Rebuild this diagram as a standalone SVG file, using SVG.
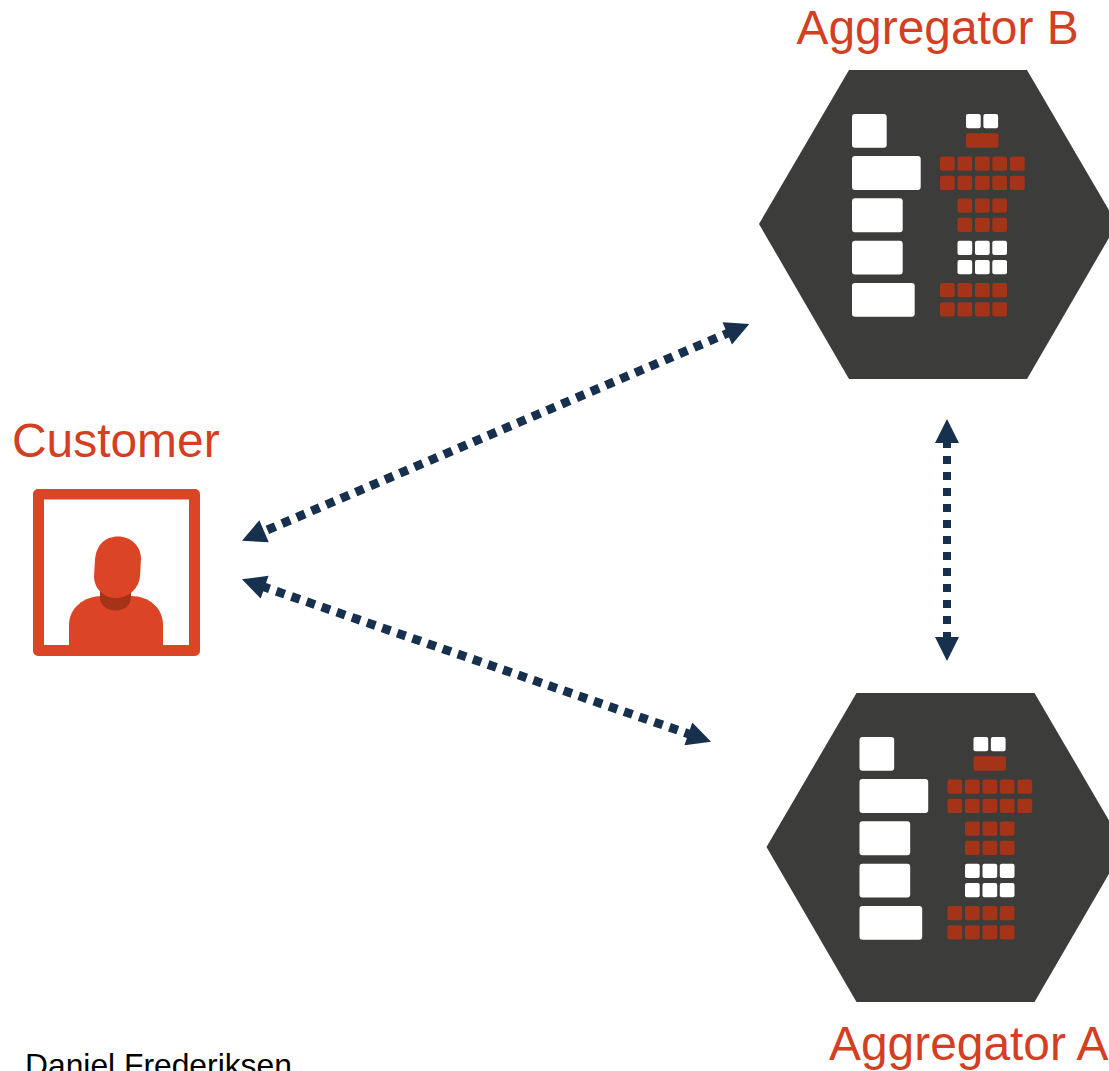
<svg xmlns="http://www.w3.org/2000/svg" xmlns:xlink="http://www.w3.org/1999/xlink" width="1109" height="1071" viewBox="0 0 1109 1071">
<style>
text{font-family:"Liberation Sans",Arial,sans-serif}
.t{font-size:47.9px;fill:#D33F23}
.w{fill:#fff}
.r{fill:#A53318}
.c{fill:none;stroke:#17304D;stroke-width:8;stroke-dasharray:8 8}
.d{stroke-width:8.8;stroke-dasharray:8.8 7.2}
</style>
<defs>
<marker id="h" markerUnits="userSpaceOnUse" markerWidth="30" markerHeight="30" viewBox="0 0 30 30" refX="6" refY="15" orient="auto-start-reverse"><path d="M3 3L27 15L3 27Z" fill="#17304D"/></marker>
<rect id="s" width="14.700" height="14.300" rx="2"/>
<g id="srv">
<path d="M759 224L849 70H1027L1117 224L1027 379H849Z" fill="#3C3C3A"/>
<g class="w">
<rect x="852" y="114" width="34.700" height="33.700" rx="3"/>
<rect x="852" y="156" width="68.700" height="34" rx="3"/>
<rect x="852" y="198.300" width="50.700" height="34" rx="3"/>
<rect x="852" y="240.700" width="50.700" height="33.700" rx="3"/>
<rect x="852" y="283" width="62.700" height="33.700" rx="3"/>
<use xlink:href="#s" x="966" y="114"/><use xlink:href="#s" x="983.400" y="114"/>
<use xlink:href="#s" x="957.500" y="240.700"/><use xlink:href="#s" x="975" y="240.700"/><use xlink:href="#s" x="992.300" y="240.700"/>
<use xlink:href="#s" x="957.500" y="260"/><use xlink:href="#s" x="975" y="260"/><use xlink:href="#s" x="992.300" y="260"/>
</g>
<g class="r">
<rect x="966" y="133.300" width="32.400" height="14.400" rx="2"/>
<use xlink:href="#s" x="940" y="156.500"/><use xlink:href="#s" x="957.500" y="156.500"/><use xlink:href="#s" x="975" y="156.500"/><use xlink:href="#s" x="992.300" y="156.500"/><use xlink:href="#s" x="1010" y="156.500"/>
<use xlink:href="#s" x="940" y="175.700"/><use xlink:href="#s" x="957.500" y="175.700"/><use xlink:href="#s" x="975" y="175.700"/><use xlink:href="#s" x="992.300" y="175.700"/><use xlink:href="#s" x="1010" y="175.700"/>
<use xlink:href="#s" x="957.500" y="198.500"/><use xlink:href="#s" x="975" y="198.500"/><use xlink:href="#s" x="992.300" y="198.500"/>
<use xlink:href="#s" x="957.500" y="217.700"/><use xlink:href="#s" x="975" y="217.700"/><use xlink:href="#s" x="992.300" y="217.700"/>
<use xlink:href="#s" x="940" y="283"/><use xlink:href="#s" x="957.500" y="283"/><use xlink:href="#s" x="975" y="283"/><use xlink:href="#s" x="992.300" y="283"/>
<use xlink:href="#s" x="940" y="302.300"/><use xlink:href="#s" x="957.500" y="302.300"/><use xlink:href="#s" x="975" y="302.300"/><use xlink:href="#s" x="992.300" y="302.300"/>
</g>
</g>
</defs>
<rect width="1109" height="1071" fill="#fff"/>
<g id="connectors">
<path class="c" marker-start="url(#h)" marker-end="url(#h)" d="M947 440V640"/>
<path class="c d" stroke-dashoffset="9.400" marker-start="url(#h)" marker-end="url(#h)" d="M261.300 532.500L730 332.200"/>
<path class="c d" stroke-dashoffset="0.600" marker-start="url(#h)" marker-end="url(#h)" d="M261.800 586.200L691.200 734.800"/>
</g>
<g id="aggregator-b"><use xlink:href="#srv"/><text class="t" x="796.500" y="44">Aggregator B</text></g>
<g id="aggregator-a"><use xlink:href="#srv" x="7.500" y="623"/><text class="t" x="829" y="1060">Aggregator A</text></g>
<g id="customer">
<text class="t" x="12" y="457">Customer</text>
<path fill-rule="evenodd" d="M38 489H195a5 5 0 0 1 5 5V651a5 5 0 0 1-5 5H38a5 5 0 0 1-5-5V494a5 5 0 0 1 5-5ZM44 499.500V645H189V499.500Z" fill="#DC4426"/>
<path d="M69 645V625C69 608 84 596 102 596H131C149 596 163 608 163 625V645Z" fill="#DC4426"/>
<path d="M100 590H131V598C131 605 124 610.500 115.500 610.500S100 605 100 598Z" fill="#A53318"/>
<path d="M95 560C96 545 105 536.500 118 536.500S141 546 141 559L140 576C139 589 128 598 116 598S94 589 94 576Z" fill="#DC4426"/>
</g>
<text id="author" x="25" y="1076" font-size="31.800" fill="#000">Daniel Frederiksen</text>
</svg>
